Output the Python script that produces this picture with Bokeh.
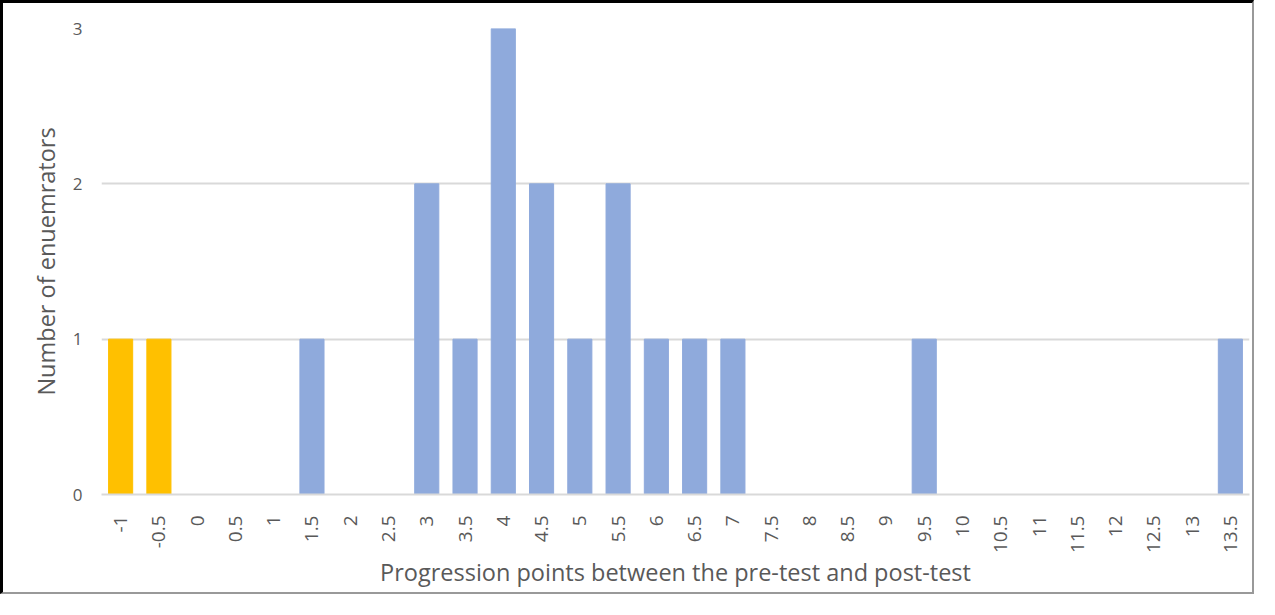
import math
from bokeh.plotting import figure
from bokeh.models import ColumnDataSource, FixedTicker, Range1d
from bokeh.embed import file_html
from bokeh.resources import INLINE

categories = ["-1", "-0.5", "0", "0.5", "1", "1.5", "2", "2.5", "3", "3.5", "4", "4.5", "5",
              "5.5", "6", "6.5", "7", "7.5", "8", "8.5", "9", "9.5", "10", "10.5", "11",
              "11.5", "12", "12.5", "13", "13.5"]
counts = [1, 1, 0, 0, 0, 1, 0, 0, 2, 1, 3, 2, 1, 2, 1, 1, 1, 0, 0, 0, 0, 1, 0, 0, 0, 0, 0, 0, 0, 1]
negative = {"-1", "-0.5"}
colors = ["#FFC000" if c in negative else "#8FAADC" for c in categories]

src = ColumnDataSource(dict(x=categories, top=counts, color=colors))

W, H = 1254, 594
p = figure(x_range=categories, y_range=Range1d(0, 3), width=W, height=H,
           output_backend="svg", toolbar_location=None,
           min_border_left=98, min_border_right=8, min_border_top=25, min_border_bottom=103)
p.vbar(x="x", top="top", width=0.63, color="color", source=src)

p.outline_line_color = None
p.background_fill_color = "white"
p.border_fill_color = "white"
p.styles = {"border-left": "3px solid #000", "border-top": "3px solid #000",
            "border-right": "2px solid #999", "border-bottom": "2px solid #999"}

p.xgrid.grid_line_color = None
p.ygrid.grid_line_color = "#D9D9D9"
p.ygrid.grid_line_width = 2
p.yaxis.ticker = FixedTicker(ticks=[0, 1, 2, 3])

font = "Open Sans"
for ax in (p.xaxis, p.yaxis):
    ax.major_tick_line_color = None
    ax.minor_tick_line_color = None
    ax.major_label_text_font = font
    ax.major_label_text_color = "#595959"
    ax.axis_label_text_font = font
    ax.axis_label_text_color = "#595959"
    ax.axis_label_text_font_size = "23.5px"
    ax.axis_label_text_font_style = "normal"

p.xaxis.major_label_text_font_size = "19px"
p.yaxis.major_label_text_font_size = "17px"
p.yaxis.axis_line_color = None
p.xaxis.axis_line_color = "#D9D9D9"
p.xaxis.axis_line_width = 2
p.xaxis.major_label_orientation = math.pi / 2
p.xaxis.axis_label = "Progression points between the pre-test and post-test"
p.yaxis.axis_label = "Number of enuemrators"
p.yaxis.major_label_standoff = 13
p.yaxis.axis_label_standoff = 8
p.xaxis.major_label_standoff = 15
p.xaxis.axis_label_standoff = 0
p.x_range.range_padding = 0

open("out.html", "w").write(file_html(p, INLINE))
